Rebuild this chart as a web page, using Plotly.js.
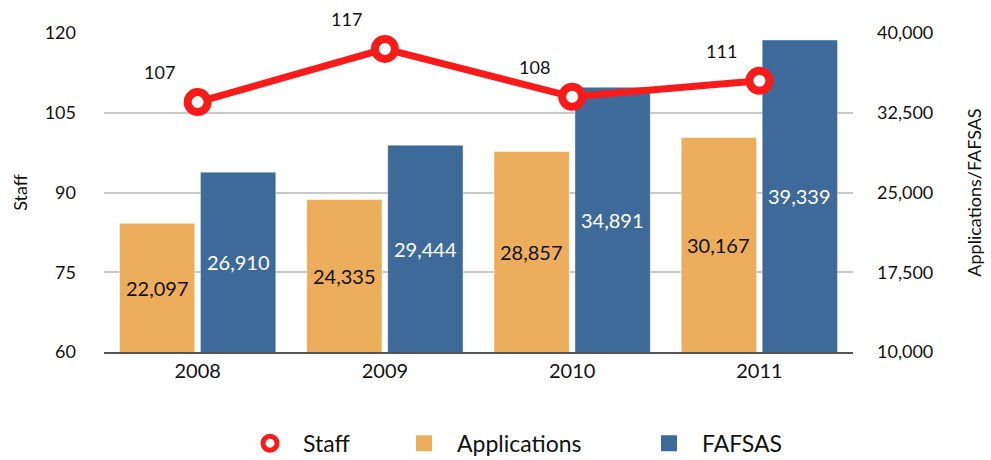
<!DOCTYPE html>
<html><head><meta charset="utf-8">
<script src="https://cdn.plot.ly/plotly-3.0.1.min.js"></script>
<style>html,body{margin:0;padding:0;background:#fff}#chart{width:991px;height:460px}</style>
</head><body><div id="chart"></div>
<script>
const years = ['2008','2009','2010','2011'];
const staff = [107, 117, 108, 111];
const applications = [22097, 24335, 28857, 30167];
const fafsas = [26910, 29444, 34891, 39339];
const leftTicks = [60, 75, 90, 105, 120];
const rightTicks = [10000, 17500, 25000, 32500, 40000];
const seriesNames = ['Staff', 'Applications', 'FAFSAS'];

const FONT = 'Lato, "Open Sans", sans-serif';
const RED = '#F91A1A', ORANGE = '#ECAE5C', BLUE = '#3D6A98';
const BARGAP = 0.135, GROUPGAP = 0.07;
const rightRange = [rightTicks[0], rightTicks[rightTicks.length-1]];
const leftRange = [leftTicks[0], leftTicks[leftTicks.length-1]];
const fmt = v => v.toLocaleString('en-US');

const traces = [
  {type:'bar', name:seriesNames[1], x:years, y:applications, yaxis:'y',
   marker:{color:ORANGE, line:{color:'rgba(255,255,255,0.5)', width:1}},
   showlegend:false, hoverinfo:'x+y'},
  {type:'bar', name:seriesNames[2], x:years, y:fafsas, yaxis:'y',
   marker:{color:BLUE, line:{color:'rgba(255,255,255,0.4)', width:1}},
   showlegend:false, hoverinfo:'x+y'},
  {type:'scatter', mode:'lines+markers', name:seriesNames[0], x:years, y:staff, yaxis:'y2',
   line:{color:RED, width:7},
   marker:{symbol:'circle', size:20, color:'#ffffff', line:{color:RED, width:8}},
   showlegend:false},
  // legend entries
  {type:'scatter', mode:'markers', name:seriesNames[0], x:[null], y:[null], yaxis:'y2', legend:'legend',
   marker:{symbol:'circle', size:14, color:'#ffffff', line:{color:RED, width:5}}},
  {type:'scatter', mode:'markers', name:seriesNames[1], x:[null], y:[null], yaxis:'y2', legend:'legend2',
   marker:{symbol:'square', size:16, color:ORANGE, line:{width:0}}},
  {type:'scatter', mode:'markers', name:seriesNames[2], x:[null], y:[null], yaxis:'y2', legend:'legend3',
   marker:{symbol:'square', size:16, color:BLUE, line:{width:0}}}
];

const off = (1 - BARGAP) / 4;
const annotations = [];
years.forEach((yr,i)=>{
  annotations.push({x:i, y:staff[i], xref:'x', yref:'y2', text:String(staff[i]), showarrow:false,
    xshift:-38, yshift:30, font:{family:FONT, size:18, color:'#111'}});
  annotations.push({x:i-off, y:(rightRange[0]+applications[i])/2, xref:'x', yref:'y',
    text:fmt(applications[i]), showarrow:false, font:{family:FONT, size:20, color:'#111'}});
  annotations.push({x:i+off, y:(rightRange[0]+fafsas[i])/2, xref:'x', yref:'y',
    text:fmt(fafsas[i]), showarrow:false, font:{family:FONT, size:20, color:'#ffffff'}});
});

const legendBase = {orientation:'h', xanchor:'left', y:-0.286, yanchor:'middle',
  font:{family:FONT, size:23, color:'#111'}, itemwidth:56, bgcolor:'rgba(0,0,0,0)', borderwidth:0};

const layout = {
  width:991, height:460,
  margin:{l:104, r:138, t:33, b:108, autoexpand:false},
  paper_bgcolor:'#fff', plot_bgcolor:'#fff',
  font:{family:FONT, size:18, color:'#111'},
  barmode:'group', bargap:BARGAP, bargroupgap:GROUPGAP,
  showlegend:true,
  legend:Object.assign({}, legendBase, {x:(237-104)/749}),
  legend2:Object.assign({}, legendBase, {x:(391-104)/749}),
  legend3:Object.assign({}, legendBase, {x:(636-104)/749}),
  xaxis:{type:'category', range:[-0.5,3.5], showgrid:false, zeroline:false,
         showline:true, linecolor:'#555', linewidth:2, ticks:'', ticklabelstandoff:0,
         tickfont:{family:FONT, size:20, color:'#111'}},
  yaxis:{side:'right', range:rightRange, tickvals:rightTicks,
         ticktext:rightTicks.map(fmt), showgrid:true, gridcolor:'#C8C8C8', gridwidth:2,
         zeroline:false, ticks:'', ticklabelstandoff:23,
         tickfont:{family:FONT, size:18, color:'#111'},
         title:{text:'Applications/FAFSAS', font:{family:FONT, size:18, color:'#111'}, standoff:36}},
  yaxis2:{side:'left', overlaying:'y', range:leftRange, tickvals:leftTicks,
          showgrid:false, zeroline:false, ticks:'', ticklabelstandoff:27,
          tickfont:{family:FONT, size:18, color:'#111'},
          title:{text:'Staff', font:{family:FONT, size:18, color:'#111'}, standoff:12}},
  annotations: annotations
};

Plotly.newPlot('chart', traces, layout, {displayModeBar:false, staticPlot:true});
</script></body></html>
